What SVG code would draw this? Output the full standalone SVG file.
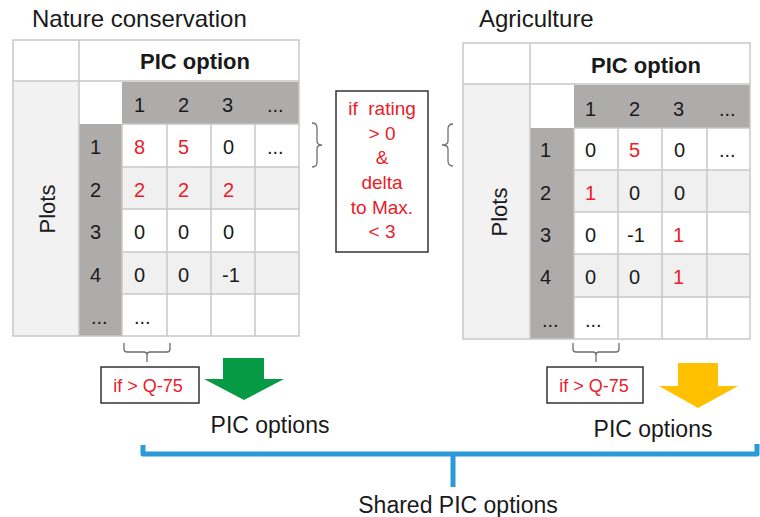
<svg xmlns="http://www.w3.org/2000/svg" width="760" height="517" viewBox="0 0 760 517">
<style>
text{font-family:"Liberation Sans",Arial,sans-serif;fill:#1a1a1a}
.title{font-size:24px}
.hdr{font-size:22px;font-weight:bold;text-anchor:middle}
.num{font-size:20px}
.red{fill:#e8202a}
.plots{font-size:22px;text-anchor:middle}
.cond{font-size:19px;text-anchor:middle;fill:#e8202a}
.q{font-size:18px;text-anchor:middle;fill:#e8202a}
.out{font-size:23px;text-anchor:middle}
.grid{stroke:#c8c8c8;stroke-width:1.5;fill:none}
.panel{fill:#f2f2f2}
.dark{fill:#aeabab}
.alt{fill:#f0f0f0}
.box{fill:#fff;stroke:#333;stroke-width:1.5}
.brace{fill:none;stroke:#6e6e6e;stroke-width:1.3}
.blue{fill:none;stroke:#2a9ad8;stroke-width:5;stroke-linejoin:round;stroke-linecap:butt}
</style>

<g id="nature-table">
  <text class="title" x="32" y="27">Nature conservation</text>
  <rect x="13" y="40" width="286" height="296" fill="#fff"/>
  <rect class="panel" x="13" y="81" width="66" height="255"/>
  <rect class="dark" x="122" y="82" width="177" height="42"/>
  <rect class="dark" x="79" y="124" width="43" height="212"/>
  <rect class="alt" x="122" y="167" width="177" height="42"/>
  <rect class="alt" x="122" y="252" width="177" height="42"/>
  <path class="grid" d="M79,40V336M13,81H299M122,124H299M122,167H299M122,209H299M122,252H299M122,294H299M122,124V336M167,124V336M211,124V336M255,124V336"/>
  <rect class="grid" x="13" y="40" width="286" height="296"/>
  <text class="hdr" x="195" y="69">PIC option</text>
  <text class="plots" transform="translate(55,209) rotate(-90)">Plots</text>
  <text class="num" x="134" y="112">1</text>
  <text class="num" x="178" y="112">2</text>
  <text class="num" x="222" y="112">3</text>
  <text class="num" x="267" y="112">...</text>
  <text class="num" x="90" y="154">1</text>
  <text class="num" x="90" y="197">2</text>
  <text class="num" x="90" y="239">3</text>
  <text class="num" x="90" y="282">4</text>
  <text class="num" x="91" y="324">...</text>
  <text class="num red" x="134" y="154">8</text>
  <text class="num red" x="178" y="154">5</text>
  <text class="num" x="223" y="154">0</text>
  <text class="num" x="267" y="154">...</text>
  <text class="num red" x="134" y="197">2</text>
  <text class="num red" x="178" y="197">2</text>
  <text class="num red" x="223" y="197">2</text>
  <text class="num" x="134" y="239">0</text>
  <text class="num" x="178" y="239">0</text>
  <text class="num" x="223" y="239">0</text>
  <text class="num" x="134" y="282">0</text>
  <text class="num" x="178" y="282">0</text>
  <text class="num" x="222" y="282">-1</text>
  <text class="num" x="134" y="324">...</text>
</g>

<g id="agriculture-table">
  <text class="title" x="479" y="27">Agriculture</text>
  <rect x="463" y="43" width="287" height="296" fill="#fff"/>
  <rect class="panel" x="463" y="84" width="67" height="255"/>
  <rect class="dark" x="574" y="85" width="176" height="43"/>
  <rect class="dark" x="530" y="128" width="44" height="211"/>
  <rect class="alt" x="574" y="170" width="176" height="42"/>
  <rect class="alt" x="574" y="254" width="176" height="43"/>
  <path class="grid" d="M530,43V339M463,84H750M574,128H750M574,170H750M574,212H750M574,254H750M574,297H750M574,128V339M618,128V339M662,128V339M707,128V339"/>
  <rect class="grid" x="463" y="43" width="287" height="296"/>
  <text class="hdr" x="646" y="73">PIC option</text>
  <text class="plots" transform="translate(507,212) rotate(-90)">Plots</text>
  <text class="num" x="585" y="116">1</text>
  <text class="num" x="629" y="116">2</text>
  <text class="num" x="673" y="116">3</text>
  <text class="num" x="719" y="116">...</text>
  <text class="num" x="540" y="157">1</text>
  <text class="num" x="540" y="200">2</text>
  <text class="num" x="540" y="242">3</text>
  <text class="num" x="540" y="284">4</text>
  <text class="num" x="542" y="327">...</text>
  <text class="num" x="585" y="157">0</text>
  <text class="num red" x="629" y="157">5</text>
  <text class="num" x="674" y="157">0</text>
  <text class="num" x="719" y="157">...</text>
  <text class="num red" x="585" y="200">1</text>
  <text class="num" x="629" y="200">0</text>
  <text class="num" x="674" y="200">0</text>
  <text class="num" x="585" y="242">0</text>
  <text class="num" x="627" y="242">-1</text>
  <text class="num red" x="673" y="242">1</text>
  <text class="num" x="585" y="284">0</text>
  <text class="num" x="629" y="284">0</text>
  <text class="num red" x="673" y="284">1</text>
  <text class="num" x="585" y="327">...</text>
</g>

<g id="rating-condition">
  <rect class="box" x="336" y="91" width="92" height="161" stroke="#404040"/>
  <text class="cond" x="382" y="115" xml:space="preserve">if  rating</text>
  <text class="cond" x="382" y="140">&gt; 0</text>
  <text class="cond" x="382" y="164">&amp;</text>
  <text class="cond" x="382" y="189">delta</text>
  <text class="cond" x="382" y="214">to Max.</text>
  <text class="cond" x="382" y="238">&lt; 3</text>
</g>

<g id="nature-filter">
  <rect class="box" x="101" y="367" width="98" height="36"/>
  <text class="q" x="148" y="392">if &gt; Q-75</text>
</g>
<g id="nature-arrow">
  <polygon points="223,358 264,358 264,379 284,379 244,400 204,379 223,379" fill="#079a44"/>
</g>
<g id="nature-output">
  <text class="out" x="270" y="433">PIC options</text>
</g>

<g id="agri-filter">
  <rect class="box" x="547" y="367" width="96" height="36"/>
  <text class="q" x="594" y="392">if &gt; Q-75</text>
</g>
<g id="agri-arrow">
  <polygon points="678,363 718,363 718,386 738,386 698,408 659,386 678,386" fill="#ffc000"/>
</g>
<g id="agri-output">
  <text class="out" x="653" y="437">PIC options</text>
</g>

<g id="shared-output">
  <text class="out" x="458" y="513">Shared PIC options</text>
</g>

<g id="connectors">
  <path class="brace" d="M312,123q5,0 5,5v13q0,4 5,4q-5,0 -5,4v13q0,5 -5,5"/>
  <path class="brace" d="M453,124q-5,0 -5,5v12q0,4 -6,4q6,0 6,4v12q0,5 5,5"/>
  <path class="brace" d="M124,343v6q0,3 3,3h17q3,0 3,3v7M147,355q0,-3 3,-3h17q3,0 3,-3v-6"/>
  <path class="brace" d="M573,343v6q0,3 3,3h17q3,0 3,3v7M596,355q0,-3 3,-3h17q3,0 3,-3v-6"/>
  <path class="blue" d="M143,445V454H757V444M453,454V487"/>
</g>
</svg>
